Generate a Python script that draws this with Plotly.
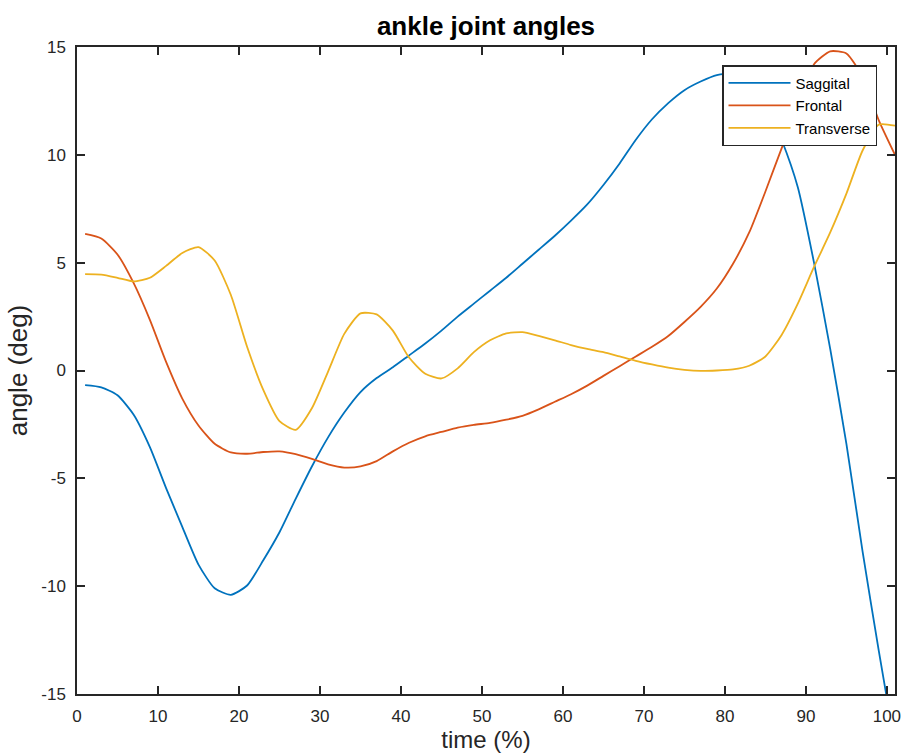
import plotly.graph_objects as go

# gait cycle samples (% of cycle), every second sample
time_pct = list(range(1, 102, 2))

saggital = [
    -0.68, -0.78, -1.15, -2.05, -3.55, -5.45, -7.25, -9.0, -10.1, -10.4,
    -9.97, -8.8, -7.5, -5.95, -4.45, -3.1, -1.95, -1.0, -0.35, 0.15,
    0.7, 1.25, 1.85, 2.5, 3.1, 3.7, 4.3, 4.95, 5.6, 6.25,
    6.95, 7.7, 8.6, 9.6, 10.7, 11.65, 12.4, 13.0, 13.4, 13.7,
    13.75, 13.3, 12.4, 10.7, 8.5, 5.0, 1.0, -3.4, -8.4, -13.0,
    -17.4,
]

frontal = [
    6.33, 6.12, 5.38, 4.05, 2.35, 0.4, -1.3, -2.55, -3.4, -3.8,
    -3.86, -3.78, -3.75, -3.88, -4.1, -4.35, -4.5, -4.45, -4.2, -3.75,
    -3.35, -3.05, -2.85, -2.65, -2.52, -2.43, -2.28, -2.1, -1.8, -1.45,
    -1.1, -0.7, -0.25, 0.2, 0.65, 1.1, 1.6, 2.25, 2.95, 3.8,
    4.95, 6.4, 8.3, 10.3, 12.2, 14.2, 14.8, 14.7, 13.6, 11.6,
    10.0,
]

transverse = [
    4.47, 4.45, 4.3, 4.13, 4.3, 4.85, 5.45, 5.72, 5.1, 3.5,
    1.1, -0.9, -2.35, -2.75, -1.75, -0.05, 1.7, 2.65, 2.6, 1.85,
    0.6, -0.15, -0.37, 0.1, 0.85, 1.4, 1.72, 1.78, 1.6, 1.4,
    1.18, 1.0, 0.85, 0.65, 0.45, 0.28, 0.13, 0.03, -0.02, 0.0,
    0.05, 0.22, 0.65, 1.65, 3.1, 4.8, 6.4, 8.2, 10.2, 11.4,
    11.35,
]

series_names = ["Saggital", "Frontal", "Transverse"]
series_colors = ["#0072BD", "#D95319", "#EDB120"]

x_ticks = [0, 10, 20, 30, 40, 50, 60, 70, 80, 90, 100]
y_ticks = [-15, -10, -5, 0, 5, 10, 15]
x_tick_text = ["0", "10", "20", "30", "40", "50", "60", "70", "80", "90", "100"]
y_tick_text = ["-15", "-10", "-5", "0", "5", "10", "15"]

FONT = "Liberation Sans, Arial, Helvetica, sans-serif"
AXIS_COLOR = "#262626"

fig = go.Figure()
for name, values, color in zip(series_names, [saggital, frontal, transverse], series_colors):
    fig.add_trace(go.Scatter(
        x=time_pct, y=values, name=name, mode="lines",
        line=dict(color=color, width=1.8, shape="spline", smoothing=0.6),
    ))

axis_common = dict(
    showline=True, linecolor=AXIS_COLOR, linewidth=1.5, mirror="ticks",
    ticks="inside", ticklen=8, tickwidth=1.5, tickcolor=AXIS_COLOR,
    showgrid=False, zeroline=False, automargin=False,
    tickfont=dict(family=FONT, size=17, color=AXIS_COLOR),
    ticklabelstandoff=6, ticklabeloverflow="allow",
)

fig.update_layout(
    width=904, height=753,
    margin=dict(l=77, r=9, t=47, b=59),
    paper_bgcolor="white", plot_bgcolor="white",
    title=dict(
        text="<b>ankle joint angles</b>",
        font=dict(family=FONT, size=26, color="black"),
        x=0.5, xref="paper", xanchor="center",
        y=1 - 26 / 753, yref="container", yanchor="middle",
    ),
    xaxis=dict(
        range=[0, 101], tickvals=x_ticks, ticktext=x_tick_text,
        title=dict(text="time (%)", font=dict(family=FONT, size=24, color=AXIS_COLOR), standoff=12),
        **axis_common,
    ),
    yaxis=dict(
        range=[-15, 15], tickvals=y_ticks, ticktext=y_tick_text,
        title=dict(text="angle (deg)", font=dict(family=FONT, size=26, color=AXIS_COLOR), standoff=6),
        **axis_common,
    ),
    legend=dict(
        x=0.978, y=0.972, xanchor="right", yanchor="top",
        bgcolor="white", bordercolor=AXIS_COLOR, borderwidth=1.5,
        font=dict(family=FONT, size=15, color="black"),
        itemwidth=62, tracegroupgap=0,
    ),
    showlegend=True,
)

fig.write_html("out.html")
